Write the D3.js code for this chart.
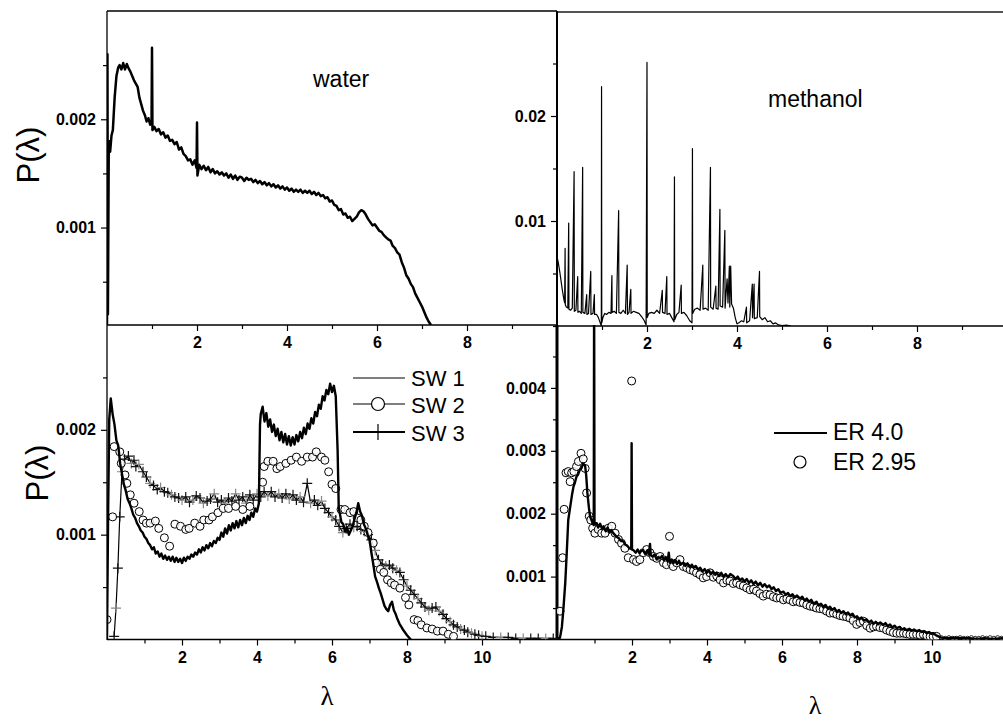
<!DOCTYPE html>
<html><head><meta charset="utf-8">
<script src="https://cdn.jsdelivr.net/npm/d3@7"></script>
<style>
html,body{margin:0;padding:0;background:#fff;}
svg{display:block;}
</style></head><body>
<svg id="c" width="1003" height="721"></svg>
<script>
// ---------------- DATA ----------------
// top-left panel: water, P(lambda)
const water = [[0,0.0001],[0.01,0.0026],[0.02,0.0002],[0.04,0.0018],[0.07,0.0017],[0.1,0.00185],[0.13,0.0019],[0.17,0.0022],[0.21,0.0024],[0.25,0.00248],
[0.28,0.0025],[0.32,0.00246],[0.36,0.00252],[0.4,0.00246],[0.44,0.00251],[0.48,0.00247],[0.52,0.00244],[0.56,0.0024],[0.6,0.00236],[0.64,0.00233],[0.68,0.0023],
[0.72,0.0022],[0.76,0.00214],[0.8,0.00208],[0.84,0.00204],[0.88,0.00198],[0.92,0.00201],[0.96,0.00195],[0.99,0.00197],[1.0,0.00266],[1.01,0.0019],[1.05,0.00193],
[1.1,0.00189],[1.15,0.00191],[1.2,0.00186],[1.25,0.00188],[1.3,0.00183],[1.35,0.00185],[1.4,0.0018],[1.45,0.00181],[1.5,0.00177],[1.55,0.00179],[1.6,0.00172],
[1.65,0.00174],[1.7,0.00168],[1.75,0.00166],[1.8,0.00162],[1.85,0.00163],[1.9,0.00158],[1.95,0.00162],[1.99,0.00155],[2.0,0.00197],[2.01,0.00148],[2.05,0.00158],
[2.1,0.00154],[2.15,0.00157],[2.2,0.00153],[2.25,0.00156],[2.3,0.00151],[2.35,0.00154],[2.4,0.0015],[2.45,0.00152],[2.5,0.00149],[2.55,0.00151],[2.6,0.00148],
[2.65,0.0015],[2.7,0.00146],[2.75,0.00149],[2.8,0.00145],[2.85,0.00148],[2.9,0.00144],[2.95,0.00147],[3.0,0.00146],[3.05,0.00143],[3.1,0.00146],[3.15,0.00144],
[3.2,0.00145],[3.25,0.00142],[3.3,0.00144],[3.35,0.00141],[3.4,0.00143],[3.45,0.0014],[3.5,0.00142],[3.55,0.00139],[3.6,0.00141],[3.65,0.00138],[3.7,0.0014],
[3.75,0.00137],[3.8,0.00139],[3.85,0.00136],[3.9,0.00138],[3.95,0.00135],[4.0,0.00137],[4.05,0.00134],[4.1,0.00136],[4.15,0.00133],[4.2,0.00135],[4.25,0.00133],
[4.3,0.00135],[4.35,0.00132],[4.4,0.00134],[4.45,0.00132],[4.5,0.00134],[4.55,0.00131],[4.6,0.00133],[4.65,0.0013],[4.7,0.00132],[4.75,0.00129],[4.8,0.0013],
[4.85,0.00127],[4.9,0.00128],[4.95,0.00124],[5.0,0.00125],[5.05,0.00121],[5.1,0.0012],[5.15,0.00116],[5.2,0.00117],[5.25,0.00112],[5.3,0.00113],[5.35,0.00109],
[5.4,0.0011],[5.45,0.00106],[5.5,0.00108],[5.55,0.0011],[5.6,0.00114],[5.65,0.00116],[5.7,0.00115],[5.75,0.00112],[5.8,0.00108],[5.85,0.00105],[5.9,0.00102],
[5.95,0.00103],[6.0,0.001],[6.05,0.00097],[6.1,0.00096],[6.15,0.00093],[6.2,0.00091],[6.25,0.00089],[6.3,0.00088],[6.35,0.00083],[6.4,0.00081],[6.45,0.00077],
[6.5,0.00075],[6.55,0.00068],[6.6,0.00063],[6.65,0.00056],[6.7,0.00053],[6.75,0.00048],[6.8,0.00045],[6.85,0.00039],[6.9,0.00035],[6.95,0.00031],[7.0,0.00027],
[7.05,0.00022],[7.1,0.00017],[7.15,0.00013],[7.2,0.0001]];

// top-right panel: methanol
const methanol = [[0,0.0066],[0.03,0.006],[0.06,0.0052],[0.09,0.0043],[0.12,0.0034],[0.15,0.0026],[0.17,0.0022],[0.18,0.0074],[0.185,0.002],[0.21,0.0018],
[0.24,0.0017],[0.26,0.0098],[0.265,0.0016],[0.3,0.0015],[0.34,0.0017],[0.38,0.0147],[0.385,0.0014],[0.42,0.0015],[0.46,0.0047],[0.465,0.0013],[0.5,0.0014],
[0.54,0.0012],[0.57,0.0151],[0.575,0.0013],[0.62,0.0012],[0.66,0.003],[0.665,0.0011],[0.7,0.0012],[0.75,0.0052],[0.755,0.0011],[0.8,0.0012],[0.83,0.003],
[0.835,0.0011],[0.88,0.0011],[0.92,0.0008],[0.96,0.0003],[0.985,0],[0.99,0.0228],[0.995,0.0003],[1.02,0.0008],[1.06,0.0012],[1.1,0.0011],[1.15,0.0013],
[1.2,0.0012],[1.22,0.0048],[1.225,0.0013],[1.27,0.0014],[1.32,0.0012],[1.37,0.011],[1.375,0.0013],[1.42,0.0012],[1.47,0.0015],[1.52,0.0012],[1.56,0.0058],
[1.565,0.0011],[1.6,0.0013],[1.64,0.0035],[1.645,0.0012],[1.7,0.0014],[1.76,0.0013],[1.82,0.0012],[1.88,0.0009],[1.94,0.0005],[1.98,0.0001],[2.0,0.0251],
[2.005,0.0008],[2.04,0.0012],[2.1,0.0013],[2.16,0.0012],[2.22,0.0015],[2.28,0.0012],[2.34,0.0034],[2.345,0.0013],[2.4,0.0012],[2.44,0.0047],[2.445,0.0011],
[2.5,0.0012],[2.55,0.0008],[2.6,0.0004],[2.61,0.0142],[2.615,0.0006],[2.66,0.0011],[2.71,0.0013],[2.76,0.0039],[2.765,0.0012],[2.82,0.0013],[2.88,0.001],
[2.95,0.0005],[3.0,0.0003],[3.01,0.0169],[3.015,0.0012],[3.06,0.0016],[3.12,0.0017],[3.18,0.0015],[3.24,0.0058],[3.245,0.0016],[3.3,0.0017],[3.36,0.0015],
[3.41,0.0151],[3.415,0.0018],[3.47,0.0016],[3.53,0.0038],[3.535,0.0017],[3.58,0.0016],[3.62,0.0111],[3.625,0.0019],[3.68,0.0018],[3.73,0.0091],[3.735,0.0017],
[3.78,0.0045],[3.8,0.0022],[3.83,0.0057],[3.84,0.0018],[3.86,0.0057],[3.88,0.0021],[3.92,0.0017],[3.96,0.0008],[4.0,0.0002],[4.04,0.0003],[4.1,0.0005],
[4.15,0.0004],[4.21,0.0018],[4.215,0.0003],[4.28,0.0005],[4.34,0.004],[4.345,0.0008],[4.38,0.004],[4.385,0.0007],[4.45,0.0008],[4.5,0.0052],[4.505,0.0009],
[4.56,0.0006],[4.62,0.0008],[4.68,0.0004],[4.74,0.0005],[4.8,0.0002],[4.86,0.0003],[4.92,0.0001],[5.0,0.00005],[5.1,0.00008],[5.2,0]];

// bottom-left panel: SW 1 (line), SW 2 (circles), SW 3 (line + crosses)
const sw1 = [[0,0],[0.03,0.0012],[0.06,0.0021],[0.1,0.0023],[0.15,0.00215],[0.2,0.00205],[0.25,0.0019],[0.3,0.00185],[0.35,0.00168],[0.4,0.00158],[0.45,0.00148],
[0.5,0.00142],[0.55,0.00134],[0.6,0.0013],[0.65,0.00125],[0.7,0.00119],[0.75,0.00116],[0.8,0.00111],[0.85,0.00108],[0.9,0.00104],[0.95,0.00102],[1.0,0.00098],
[1.05,0.00096],[1.1,0.00092],[1.15,0.0009],[1.2,0.00086],[1.25,0.00088],[1.3,0.00082],[1.35,0.00084],[1.4,0.00079],[1.45,0.00082],[1.5,0.00077],[1.55,0.0008],
[1.6,0.00076],[1.65,0.00079],[1.7,0.00075],[1.75,0.00079],[1.8,0.00074],[1.85,0.00078],[1.9,0.00074],[1.95,0.00077],[2.0,0.00073],[2.05,0.00078],[2.1,0.00075],
[2.15,0.00079],[2.2,0.00077],[2.25,0.00081],[2.3,0.00079],[2.35,0.00083],[2.4,0.00081],[2.45,0.00086],[2.5,0.00083],[2.55,0.00088],[2.6,0.00085],[2.65,0.0009],
[2.7,0.00087],[2.75,0.00092],[2.8,0.00089],[2.85,0.00094],[2.9,0.00092],[2.95,0.00097],[3.0,0.00095],[3.05,0.00102],[3.1,0.00098],[3.15,0.00106],[3.2,0.00101],
[3.25,0.00109],[3.3,0.00104],[3.35,0.00111],[3.4,0.00106],[3.45,0.00113],[3.5,0.00107],[3.55,0.00114],[3.6,0.00109],[3.65,0.00116],[3.7,0.00111],[3.75,0.00118],
[3.8,0.00114],[3.85,0.00121],[3.9,0.00117],[3.95,0.00125],[4.0,0.00122],[4.05,0.0013],[4.08,0.00205],[4.1,0.00215],[4.15,0.00222],[4.2,0.00208],[4.25,0.00216],
[4.3,0.00203],[4.35,0.0021],[4.4,0.00198],[4.45,0.00205],[4.5,0.00194],[4.55,0.00201],[4.6,0.0019],[4.65,0.00198],[4.7,0.00188],[4.75,0.00196],[4.8,0.00186],
[4.85,0.00194],[4.9,0.00185],[4.95,0.00193],[5.0,0.00186],[5.05,0.00195],[5.1,0.00189],[5.15,0.00198],[5.2,0.00192],[5.25,0.00202],[5.3,0.00196],[5.35,0.00206],
[5.4,0.00201],[5.45,0.00211],[5.5,0.00206],[5.55,0.00217],[5.6,0.00213],[5.65,0.00224],[5.7,0.0022],[5.75,0.00232],[5.8,0.00228],[5.85,0.00238],[5.9,0.00234],
[5.95,0.00244],[6.0,0.00236],[6.05,0.00242],[6.1,0.00232],[6.15,0.0018],[6.18,0.00125],[6.2,0.00122],[6.25,0.00112],[6.3,0.0011],[6.35,0.00103],[6.4,0.00107],
[6.45,0.001],[6.5,0.00104],[6.55,0.00108],[6.6,0.00115],[6.65,0.00121],[6.7,0.0013],[6.75,0.00122],[6.8,0.00118],[6.85,0.0011],[6.9,0.00106],[6.95,0.001],
[7.0,0.00095],[7.05,0.00083],[7.1,0.00072],[7.15,0.0006],[7.2,0.00055],[7.25,0.00049],[7.3,0.00044],[7.35,0.00038],[7.4,0.00032],[7.45,0.00029],[7.5,0.00027],
[7.55,0.00033],[7.6,0.00036],[7.65,0.00028],[7.7,0.00024],[7.75,0.00019],[7.8,0.00015],[7.85,0.00012],[7.9,0.00009],[8.0,0.00004],[8.1,0.0]];

const sw2 = [[0.0,0.00019],[0.15,0.00117],[0.19,0.00184],[0.34,0.00179],[0.38,0.00168],[0.48,0.00157],[0.53,0.00149],[0.62,0.00138],[0.72,0.0013],[0.86,0.00122],
[0.96,0.00114],[1.05,0.00111],[1.15,0.00111],[1.29,0.00113],[1.38,0.00106],[1.53,0.00097],[1.67,0.00089],[1.81,0.0011],[1.96,0.00108],[2.1,0.00105],[2.19,0.00106],
[2.34,0.00111],[2.48,0.00108],[2.58,0.00114],[2.72,0.00114],[2.81,0.00117],[2.96,0.00121],[3.1,0.00125],[3.24,0.00125],[3.43,0.00127],[3.62,0.00124],[3.81,0.00127],
[4.15,0.0015],[4.19,0.00165],[4.29,0.0017],[4.43,0.0017],[4.53,0.00163],[4.62,0.00165],[4.77,0.00168],[4.91,0.00171],[5.05,0.00174],[5.19,0.0017],[5.34,0.00174],
[5.48,0.00174],[5.58,0.00179],[5.72,0.00174],[5.81,0.00171],[5.91,0.0016],[6.0,0.00148],[6.1,0.00144],[6.24,0.00124],[6.34,0.00124],[6.48,0.00121],[6.58,0.00122],
[6.67,0.00116],[6.77,0.00114],[6.86,0.00108],[6.96,0.00102],[7.1,0.00092],[7.19,0.00073],[7.29,0.00067],[7.38,0.00064],[7.48,0.00057],[7.58,0.00054],[7.67,0.00052],
[7.81,0.00049],[7.96,0.0004],[8.05,0.00033],[8.19,0.00019],[8.29,0.00018],[8.38,0.00014],[8.53,0.00011],[8.67,0.0001],[8.81,0.00008],[8.96,0.00008],[9.1,0.00005],
[9.24,0.00003]];

const sw3 = [[0.19,0.00003],[0.24,0.0003],[0.29,0.00068],[0.34,0.00117],[0.4,0.0016],[0.47,0.00172],[0.57,0.00175],[0.65,0.00168],[0.72,0.00171],[0.77,0.00165],
[0.85,0.00167],[0.96,0.0016],[1.05,0.00155],[1.15,0.00149],[1.24,0.00147],[1.34,0.00143],[1.43,0.00145],[1.53,0.00141],[1.62,0.0014],[1.72,0.00138],[1.81,0.00136],
[1.91,0.00135],[2.0,0.00133],[2.1,0.00136],[2.2,0.00131],[2.29,0.00133],[2.38,0.00137],[2.48,0.00135],[2.57,0.0013],[2.67,0.00132],[2.76,0.00134],[2.86,0.00139],
[2.95,0.00131],[3.05,0.00133],[3.14,0.0013],[3.24,0.00135],[3.33,0.00132],[3.43,0.00139],[3.52,0.00133],[3.62,0.00136],[3.71,0.0013],[3.81,0.00138],[3.9,0.00133],
[4.0,0.00139],[4.1,0.00136],[4.19,0.00141],[4.29,0.00137],[4.38,0.00141],[4.48,0.00136],[4.58,0.00139],[4.67,0.00135],[4.77,0.00139],[4.86,0.00134],[4.96,0.00138],
[5.05,0.00133],[5.15,0.00136],[5.24,0.00131],[5.34,0.00149],[5.43,0.0013],[5.53,0.00133],[5.62,0.00128],[5.72,0.00132],[5.81,0.00125],[5.91,0.00121],[6.0,0.00117],
[6.1,0.00114],[6.19,0.00108],[6.29,0.00102],[6.38,0.00106],[6.48,0.0011],[6.58,0.00107],[6.67,0.00108],[6.77,0.00105],[6.86,0.00103],[6.96,0.001],[7.05,0.00095],
[7.15,0.00085],[7.24,0.00076],[7.34,0.00072],[7.43,0.0007],[7.53,0.00071],[7.62,0.00068],[7.72,0.00066],[7.81,0.00064],[7.91,0.00057],[8.0,0.00051],[8.1,0.00047],
[8.19,0.00043],[8.29,0.00039],[8.38,0.00035],[8.48,0.00031],[8.58,0.00028],[8.67,0.0003],[8.77,0.00031],[8.86,0.00027],[8.96,0.00024],[9.05,0.0002],[9.15,0.00017],
[9.24,0.00014],[9.34,0.00012],[9.43,0.0001],[9.53,0.00009],[9.62,0.00007],[9.72,0.00006],[9.81,0.00005],[9.91,0.00004],[10.0,0.00003],[10.1,0.00003],[10.3,0.00002],
[10.5,0.00002],[10.7,0.00002],[10.9,0.00001],[11.1,0.00001],[11.3,0.00001],[11.5,0.00001],[11.7,0.00001],[11.9,0.00001]];

// bottom-right panel: ER 4.0 (line), ER 2.95 (circles)
const er40 = [[0,0],[0.08,0.00003],[0.13,0.0002],[0.17,0.00048],[0.22,0.0009],[0.26,0.00138],[0.3,0.0019],[0.35,0.0021],[0.4,0.0023],[0.44,0.00243],[0.48,0.0025],
[0.52,0.00259],[0.56,0.00262],[0.61,0.0027],[0.65,0.00272],[0.7,0.0028],[0.75,0.00276],[0.78,0.0026],[0.81,0.00233],[0.85,0.0021],[0.88,0.00196],[0.92,0.0019],
[0.95,0.00185],[0.98,0.00182],[0.99,0.0056],[1.0,0.00183],[1.06,0.00185],[1.1,0.00178],[1.15,0.00184],[1.2,0.00176],[1.24,0.0018],[1.3,0.00172],[1.35,0.00178],
[1.4,0.0017],[1.45,0.00174],[1.5,0.00169],[1.55,0.00166],[1.6,0.00163],[1.65,0.00161],[1.7,0.00157],[1.77,0.00156],[1.82,0.00151],[1.87,0.00149],[1.93,0.00145],
[1.98,0.00144],[1.99,0.00312],[2.0,0.00143],[2.04,0.00142],[2.1,0.00138],[2.15,0.00143],[2.2,0.00137],[2.25,0.00141],[2.3,0.00142],[2.35,0.00136],[2.4,0.00141],
[2.45,0.00135],[2.48,0.00152],[2.5,0.00134],[2.55,0.00132],[2.6,0.00135],[2.66,0.00127],[2.7,0.00131],[2.75,0.00129],[2.8,0.00133],[2.85,0.00126],[2.9,0.00131],
[2.95,0.00124],[2.98,0.00138],[3.01,0.00122],[3.06,0.00127],[3.1,0.00121],[3.15,0.00126],[3.2,0.0012],[3.25,0.00125],[3.3,0.00119],[3.37,0.00122],[3.42,0.00117],
[3.48,0.00121],[3.54,0.00115],[3.6,0.00119],[3.64,0.00114],[3.7,0.00117],[3.76,0.00111],[3.82,0.00114],[3.88,0.00108],[3.94,0.00112],[3.99,0.00106],[4.05,0.0011],
[4.1,0.00104],[4.16,0.00108],[4.22,0.00103],[4.26,0.00106],[4.32,0.00101],[4.38,0.00106],[4.44,0.001],[4.5,0.00104],[4.56,0.00099],[4.62,0.00104],[4.7,0.00101],
[4.76,0.00096],[4.82,0.001],[4.88,0.00094],[4.94,0.00097],[5.0,0.00092],[5.06,0.00096],[5.12,0.0009],[5.18,0.00094],[5.24,0.00088],[5.3,0.00092],[5.36,0.00086],
[5.42,0.0009],[5.48,0.00084],[5.54,0.00088],[5.6,0.00083],[5.66,0.00086],[5.72,0.0008],[5.78,0.00083],[5.84,0.00077],[5.9,0.0008],[5.96,0.00074],[6.04,0.00076],
[6.1,0.00071],[6.16,0.00074],[6.22,0.00069],[6.28,0.00072],[6.34,0.00067],[6.4,0.0007],[6.48,0.00065],[6.54,0.00068],[6.6,0.00062],[6.66,0.00065],[6.72,0.0006],
[6.78,0.00063],[6.84,0.00057],[6.92,0.0006],[6.98,0.00054],[7.04,0.00057],[7.1,0.00051],[7.16,0.00055],[7.22,0.00049],[7.28,0.00052],[7.34,0.00047],[7.4,0.0005],
[7.46,0.00044],[7.52,0.00047],[7.58,0.00042],[7.64,0.00045],[7.7,0.0004],[7.76,0.00043],[7.82,0.00038],[7.88,0.00041],[7.94,0.00035],[8.0,0.00037],[8.06,0.00032],
[8.12,0.00035],[8.18,0.0003],[8.26,0.00032],[8.32,0.00027],[8.38,0.0003],[8.44,0.00025],[8.5,0.00028],[8.56,0.00024],[8.62,0.00027],[8.7,0.00023],[8.76,0.00026],
[8.82,0.00021],[8.88,0.00024],[8.94,0.00019],[9.0,0.00022],[9.06,0.00018],[9.14,0.0002],[9.2,0.00016],[9.26,0.00018],[9.32,0.00015],[9.4,0.00017],[9.46,0.00014],
[9.52,0.00016],[9.59,0.00013],[9.66,0.00015],[9.72,0.00012],[9.8,0.00013],[9.86,0.0001],[9.92,0.00012],[9.98,0.00009],[10.03,0.0001],[10.1,0.00007],[10.17,0.00005],
[10.25,0.00003],[10.4,0.00002],[10.6,0.00003],[10.8,0.00002],[11.0,0.00002],[11.2,0.00001],[11.4,0.00002],[11.6,0.00001],[11.9,0.00002]];

const er295 = [[0.08,0.00045],[0.15,0.0013],[0.19,0.00207],[0.24,0.00265],[0.3,0.00267],[0.35,0.00251],[0.39,0.00265],[0.45,0.00267],[0.52,0.00275],[0.57,0.00283],
[0.64,0.00296],[0.7,0.00287],[0.75,0.00272],[0.79,0.00233],[0.86,0.00196],[0.9,0.0019],[0.95,0.00177],[1.01,0.00169],[1.1,0.00175],[1.19,0.00169],[1.28,0.00169],
[1.37,0.00177],[1.46,0.0018],[1.55,0.00169],[1.64,0.00159],[1.72,0.00153],[1.81,0.00145],[1.9,0.0013],[1.99,0.00411],[2.04,0.00127],[2.12,0.00124],[2.21,0.00127],
[2.3,0.00138],[2.39,0.00143],[2.48,0.00138],[2.57,0.00132],[2.66,0.00129],[2.75,0.00132],[2.84,0.00122],[2.92,0.00119],[3.0,0.00164],[3.05,0.00121],[3.1,0.00116],
[3.19,0.00122],[3.28,0.00127],[3.37,0.00116],[3.46,0.00114],[3.55,0.00111],[3.64,0.00109],[3.72,0.00106],[3.81,0.00103],[3.9,0.00098],[3.99,0.001],[4.08,0.00106],
[4.17,0.00099],[4.26,0.00101],[4.35,0.00095],[4.44,0.0009],[4.53,0.00094],[4.61,0.00093],[4.7,0.00089],[4.79,0.0009],[4.88,0.00087],[4.97,0.00085],[5.06,0.00082],
[5.15,0.00079],[5.24,0.0008],[5.32,0.00077],[5.41,0.00073],[5.5,0.00069],[5.59,0.00072],[5.68,0.00071],[5.77,0.00068],[5.86,0.00066],[5.95,0.00066],[6.04,0.00063],
[6.13,0.00065],[6.21,0.00063],[6.3,0.0006],[6.39,0.00061],[6.48,0.00059],[6.57,0.00058],[6.66,0.00055],[6.75,0.00053],[6.84,0.00052],[6.92,0.0005],[7.01,0.00049],
[7.1,0.00048],[7.19,0.00045],[7.28,0.00042],[7.37,0.00042],[7.46,0.0004],[7.55,0.00038],[7.63,0.00037],[7.72,0.00036],[7.81,0.00034],[7.9,0.0003],[7.99,0.00024],
[8.08,0.00027],[8.17,0.00029],[8.26,0.00022],[8.35,0.00018],[8.44,0.0002],[8.52,0.00021],[8.61,0.00019],[8.7,0.00018],[8.79,0.00015],[8.88,0.00013],[8.97,0.00011],
[9.06,0.0001],[9.15,0.0001],[9.24,0.0001],[9.32,0.00009],[9.41,0.00008],[9.5,0.00008],[9.59,0.00008],[9.68,0.00007],[9.77,0.00008],[9.86,0.00006],[9.95,0.00005],
[10.03,0.00005],[10.12,0.00005]];
const er295Tail = [[10.25,0.00003],[10.35,0.00002],[10.45,0.00003],[10.55,0.00002],[10.65,0.00002],[10.75,0.00003],[10.85,0.00002],[10.95,0.00002],[11.05,0.00003],
[11.15,0.00002],[11.25,0.00002],[11.35,0.00003],[11.45,0.00002],[11.55,0.00003],[11.65,0.00002],[11.75,0.00003],[11.85,0.00002]];

// ticks
const waterXMajor = [2,4,6,8], waterXMinor = [1,3,5,7,9];
const waterYMajor = [0.001,0.002], waterYMinor = [0.0005,0.0015,0.0025];
const methXMajor = [2,4,6,8], methXMinor = [1,3,5,7,9];
const methYMajor = [0.01,0.02], methYMinor = [0,0.005,0.015,0.025];
const swXMajor = [2,4,6,8,10], swXMinor = [1,3,5,7,9,11];
const swYMajor = [0.001,0.002], swYMinor = [0.0005,0.0015,0.0025];
const erXMajor = [2,4,6,8,10], erXMinor = [1,3,5,7,9,11];
const erYMajor = [0.001,0.002,0.003,0.004], erYMinor = [0.0005,0.0015,0.0025,0.0035,0.0045];

// ---------------- DRAW ----------------
const svg = d3.select("#c");
const SANS = "Arial, 'Liberation Sans', Helvetica, sans-serif";
const SERIF = "'Times New Roman', 'Liberation Serif', serif";

const P = {
  water: {x: d3.scaleLinear([0,10],[107,557]), y: d3.scaleLinear([0.0001,0.003],[325,11])},
  meth:  {x: d3.scaleLinear([0,10],[557,1007]), y: d3.scaleLinear([0,0.03],[326,11])},
  sw:    {x: d3.scaleLinear([0,12],[107,557]), y: d3.scaleLinear([0,0.003],[639.5,325])},
  er:    {x: d3.scaleLinear([0,12],[557,1007]), y: d3.scaleLinear([0,0.005],[639.5,325])}
};

const defs = svg.append("defs");
Object.entries(P).forEach(([k,p]) => {
  const [x0,x1] = p.x.range(), [y0,y1] = p.y.range();
  defs.append("clipPath").attr("id","clip-"+k).append("rect")
    .attr("x",x0).attr("y",Math.min(y0,y1)).attr("width",x1-x0).attr("height",Math.abs(y0-y1));
});

function axes(p, xMaj, xMin, yMaj, yMin, yFmt) {
  const xa = p.y.range()[0], ya = p.x.range()[0];
  const g = svg.append("g");
  const add = (axis) => { const a = g.append("g").call(axis); a.select(".domain").remove(); return a; };
  add(d3.axisBottom(p.x).tickValues(xMaj).tickSize(6).tickPadding(6).tickFormat(d3.format("d"))).attr("transform",`translate(0,${xa})`);
  add(d3.axisBottom(p.x).tickValues(xMin).tickSize(4).tickFormat("")).attr("transform",`translate(0,${xa})`);
  add(d3.axisLeft(p.y).tickValues(yMaj).tickSize(6).tickPadding(5).tickFormat(yFmt)).attr("transform",`translate(${ya},0)`);
  add(d3.axisLeft(p.y).tickValues(yMin).tickSize(4).tickFormat("")).attr("transform",`translate(${ya},0)`);
  g.selectAll("text").attr("font-family",SANS).attr("font-size",16).attr("font-weight","bold").attr("fill","#000");
  g.selectAll("line").attr("stroke","#000").attr("stroke-width",1.2);
}
const f3 = d3.format(".3f"), f2 = d3.format(".2f");
axes(P.water, waterXMajor, waterXMinor, waterYMajor, waterYMinor, f3);
axes(P.meth, methXMajor, methXMinor, methYMajor, methYMinor, f2);
axes(P.sw, swXMajor, swXMinor, swYMajor, swYMinor, f3);
axes(P.er, erXMajor, erXMinor, erYMajor, erYMinor, f3);

// frames
const frame = svg.append("g").attr("fill","none");
function seg(x1,y1,x2,y2,w,c){ frame.append("line").attr("x1",x1).attr("y1",y1).attr("x2",x2).attr("y2",y2).attr("stroke",c||"#000").attr("stroke-width",w); }
seg(107,11,557,11,1.3);
seg(557,12,1003,12,2,"#555");
seg(107,11,107,640,1.3);
seg(107,325,557,325,1.5);
seg(557,326,1003,326,1.3);
seg(557,11,557,325,2);
seg(557,325,557,640,3);
seg(107,639.5,1003,639.5,1.5);

function line(p, key, data, w) {
  svg.append("path").datum(data).attr("clip-path",`url(#clip-${key})`)
    .attr("fill","none").attr("stroke","#000").attr("stroke-width",w).attr("stroke-linejoin","round")
    .attr("d", d3.line().x(d=>p.x(d[0])).y(d=>p.y(d[1])));
}
function circles(p, key, data, r, w) {
  svg.append("g").attr("clip-path",`url(#clip-${key})`).selectAll("circle").data(data).join("circle")
    .attr("cx",d=>p.x(d[0])).attr("cy",d=>p.y(d[1])).attr("r",r)
    .attr("fill","#fff").attr("fill-opacity",0.85).attr("stroke","#000").attr("stroke-width",w);
}
function crosses(p, key, data, s) {
  svg.append("g").attr("clip-path",`url(#clip-${key})`).selectAll("path").data(data).join("path")
    .attr("d",`M${-s},0H${s}M0,${-s}V${s}`)
    .attr("transform",d=>`translate(${p.x(d[0])},${p.y(d[1])})`)
    .attr("stroke",(d,i)=> i%3===1 ? "#888" : "#111").attr("stroke-width",1.2).attr("fill","none");
}

// water
line(P.water,"water",water,2.5);
// methanol
line(P.meth,"meth",methanol,1.2);
// SW
line(P.sw,"sw",sw3,1.2);
crosses(P.sw,"sw",sw3,5);
circles(P.sw,"sw",sw2,4,1);
line(P.sw,"sw",sw1,2.4);
// ER
circles(P.er,"er",er295,4,1);
circles(P.er,"er",er295Tail,2,0.8);
line(P.er,"er",er40,2.4);

// text labels
function txt(x,y,s,size,opt={}) {
  const t = svg.append("text").attr("x",x).attr("y",y).text(s)
    .attr("font-family",opt.family||SANS).attr("font-size",size).attr("fill","#000");
  if (opt.anchor) t.attr("text-anchor",opt.anchor);
  if (opt.rot) t.attr("transform",`rotate(-90,${x},${y})`);
  return t;
}
txt(313,87,"water",23);
txt(768,107,"methanol",23);
txt(39,155,"P(λ)",31,{anchor:"middle",rot:true});
txt(48,473,"P(λ)",31,{anchor:"middle",rot:true});
txt(327,705,"λ",27,{anchor:"middle",family:SERIF});
txt(815,714,"λ",26,{anchor:"middle",family:SERIF});

// legends
const lg = svg.append("g");
lg.append("line").attr("x1",353).attr("x2",405).attr("y1",378).attr("y2",378).attr("stroke","#000").attr("stroke-width",1.2);
lg.append("line").attr("x1",353).attr("x2",405).attr("y1",404).attr("y2",404).attr("stroke","#000").attr("stroke-width",1.2);
lg.append("circle").attr("cx",378).attr("cy",404).attr("r",6.5).attr("fill","#fff").attr("stroke","#000").attr("stroke-width",1.2);
lg.append("line").attr("x1",353).attr("x2",405).attr("y1",432).attr("y2",432).attr("stroke","#000").attr("stroke-width",2);
lg.append("line").attr("x1",378).attr("x2",378).attr("y1",424).attr("y2",440).attr("stroke","#000").attr("stroke-width",1.2);
txt(411,386,"SW 1",22); txt(411,413,"SW 2",22); txt(411,441,"SW 3",22);
lg.append("line").attr("x1",774).attr("x2",827).attr("y1",433).attr("y2",433).attr("stroke","#000").attr("stroke-width",2);
lg.append("circle").attr("cx",800).attr("cy",462).attr("r",6).attr("fill","#fff").attr("stroke","#000").attr("stroke-width",1.2);
txt(833,440,"ER 4.0",23); txt(833,470,"ER 2.95",23);
</script>
</body></html>
